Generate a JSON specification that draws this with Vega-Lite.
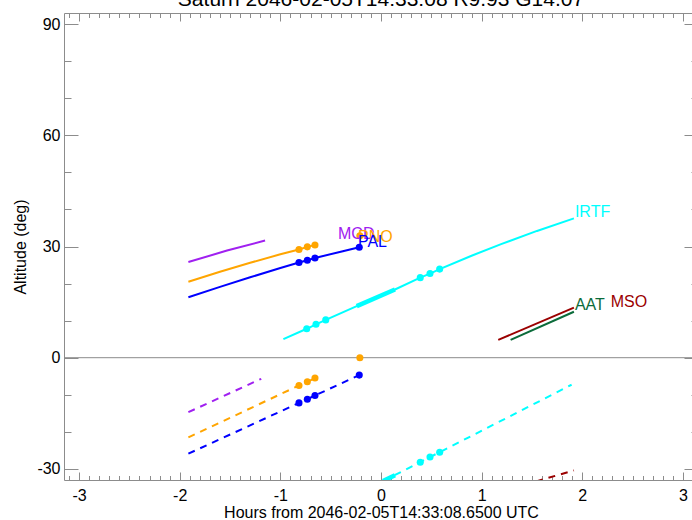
{
  "$schema": "https://vega.github.io/schema/vega-lite/v6.json",
  "autosize": {"type": "none"},
  "padding": {"left": 64, "top": 13, "right": -6, "bottom": 40},
  "width": 634,
  "height": 467,
  "background": "white",
  "title": {"text": "Saturn 2046-02-05T14:33:08 R9.93 G14.07", "fontSize": 21, "font": "Liberation Sans", "fontWeight": "normal", "color": "black", "anchor": "middle", "frame": "group", "offset": 3},
  "config": {
    "view": {"stroke": null},
    "axis": {"grid": false, "domainColor": "#8c8c8c", "tickColor": "#8c8c8c", "domainWidth": 1, "tickWidth": 1, "labelColor": "black", "titleColor": "black", "labelFont": "Liberation Sans", "titleFont": "Liberation Sans", "labelFontSize": 16, "titleFontSize": 16, "titleFontWeight": "normal", "labelFlush": false, "labelOverlap": false, "labelBound": false}
  },
  "datasets": {
    "zero": [{"alt": 0}],
    "lines": [
      {"obs": "MCD", "style": "solid", "h": -1.914, "alt": 25.8},
      {"obs": "MCD", "style": "solid", "h": -1.53, "alt": 28.9},
      {"obs": "MCD", "style": "solid", "h": -1.152, "alt": 31.6},
      {"obs": "PNO", "style": "solid", "h": -1.914, "alt": 20.5},
      {"obs": "PNO", "style": "solid", "h": -1.6, "alt": 23.2},
      {"obs": "PNO", "style": "solid", "h": -1.3, "alt": 25.6},
      {"obs": "PNO", "style": "solid", "h": -1.0, "alt": 27.9},
      {"obs": "PNO", "style": "solid", "h": -0.815, "alt": 29.2},
      {"obs": "PNO", "style": "solid", "h": -0.732, "alt": 29.9},
      {"obs": "PNO", "style": "solid", "h": -0.656, "alt": 30.4},
      {"obs": "PAL", "style": "solid", "h": -1.914, "alt": 16.3},
      {"obs": "PAL", "style": "solid", "h": -1.6, "alt": 19.1},
      {"obs": "PAL", "style": "solid", "h": -1.3, "alt": 21.7},
      {"obs": "PAL", "style": "solid", "h": -1.0, "alt": 24.2},
      {"obs": "PAL", "style": "solid", "h": -0.815, "alt": 25.7},
      {"obs": "PAL", "style": "solid", "h": -0.732, "alt": 26.3},
      {"obs": "PAL", "style": "solid", "h": -0.656, "alt": 26.9},
      {"obs": "PAL", "style": "solid", "h": -0.4, "alt": 28.6},
      {"obs": "PAL", "style": "solid", "h": -0.216, "alt": 29.8},
      {"obs": "IRTF", "style": "solid", "h": -0.97, "alt": 5.0},
      {"obs": "IRTF", "style": "solid", "h": -0.738, "alt": 7.8},
      {"obs": "IRTF", "style": "solid", "h": -0.646, "alt": 9.0},
      {"obs": "IRTF", "style": "solid", "h": -0.549, "alt": 10.2},
      {"obs": "IRTF", "style": "solid", "h": -0.241, "alt": 13.9},
      {"obs": "IRTF", "style": "solid", "h": 0.139, "alt": 18.4},
      {"obs": "IRTF", "style": "solid", "h": 0.39, "alt": 21.6},
      {"obs": "IRTF", "style": "solid", "h": 0.487, "alt": 22.7},
      {"obs": "IRTF", "style": "solid", "h": 0.583, "alt": 23.9},
      {"obs": "IRTF", "style": "solid", "h": 0.9, "alt": 27.5},
      {"obs": "IRTF", "style": "solid", "h": 1.2, "alt": 30.7},
      {"obs": "IRTF", "style": "solid", "h": 1.55, "alt": 34.2},
      {"obs": "IRTF", "style": "solid", "h": 1.917, "alt": 37.6},
      {"obs": "AAT", "style": "solid", "h": 1.288, "alt": 4.8},
      {"obs": "AAT", "style": "solid", "h": 1.917, "alt": 12.4},
      {"obs": "MSO", "style": "solid", "h": 1.165, "alt": 4.8},
      {"obs": "MSO", "style": "solid", "h": 1.917, "alt": 13.5},
      {"obs": "IRTF", "style": "thick", "h": -0.241, "alt": 13.9},
      {"obs": "IRTF", "style": "thick", "h": 0.139, "alt": 18.4},
      {"obs": "IRTF", "style": "thickd", "h": 0.02, "alt": -33.3},
      {"obs": "IRTF", "style": "thickd", "h": 0.139, "alt": -31.7},
      {"obs": "MCD", "style": "dashed", "h": -1.914, "alt": -14.7},
      {"obs": "MCD", "style": "dashed", "h": -1.19, "alt": -5.7},
      {"obs": "PNO", "style": "dashed", "h": -1.914, "alt": -21.5},
      {"obs": "PNO", "style": "dashed", "h": -0.815, "alt": -7.5},
      {"obs": "PNO", "style": "dashed", "h": -0.732, "alt": -6.5},
      {"obs": "PNO", "style": "dashed", "h": -0.656, "alt": -5.5},
      {"obs": "PAL", "style": "dashed", "h": -1.914, "alt": -25.9},
      {"obs": "PAL", "style": "dashed", "h": -0.815, "alt": -12.2},
      {"obs": "PAL", "style": "dashed", "h": -0.732, "alt": -11.2},
      {"obs": "PAL", "style": "dashed", "h": -0.656, "alt": -10.2},
      {"obs": "PAL", "style": "dashed", "h": -0.216, "alt": -4.7},
      {"obs": "IRTF", "style": "dashed", "h": 0.02, "alt": -33.3},
      {"obs": "IRTF", "style": "dashed", "h": 0.39, "alt": -28.2},
      {"obs": "IRTF", "style": "dashed", "h": 0.487, "alt": -26.8},
      {"obs": "IRTF", "style": "dashed", "h": 0.583, "alt": -25.5},
      {"obs": "IRTF", "style": "dashed", "h": 1.894, "alt": -7.3},
      {"obs": "MSO", "style": "dashed", "h": 1.54, "alt": -33.4},
      {"obs": "MSO", "style": "dashed", "h": 1.917, "alt": -30.4}
    ],
    "dots": [
      {"obs": "PNO", "h": -0.815, "alt": 29.2},
      {"obs": "PNO", "h": -0.732, "alt": 29.9},
      {"obs": "PNO", "h": -0.656, "alt": 30.4},
      {"obs": "PNO", "h": -0.815, "alt": -7.5},
      {"obs": "PNO", "h": -0.732, "alt": -6.5},
      {"obs": "PNO", "h": -0.656, "alt": -5.5},
      {"obs": "PNO", "h": -0.21, "alt": 32.9},
      {"obs": "PNO", "h": -0.21, "alt": 0.0},
      {"obs": "PAL", "h": -0.815, "alt": 25.7},
      {"obs": "PAL", "h": -0.732, "alt": 26.3},
      {"obs": "PAL", "h": -0.656, "alt": 26.9},
      {"obs": "PAL", "h": -0.216, "alt": 29.8},
      {"obs": "PAL", "h": -0.815, "alt": -12.2},
      {"obs": "PAL", "h": -0.732, "alt": -11.2},
      {"obs": "PAL", "h": -0.656, "alt": -10.2},
      {"obs": "PAL", "h": -0.216, "alt": -4.7},
      {"obs": "IRTF", "h": -0.738, "alt": 7.8},
      {"obs": "IRTF", "h": -0.646, "alt": 9.0},
      {"obs": "IRTF", "h": -0.549, "alt": 10.2},
      {"obs": "IRTF", "h": 0.39, "alt": 21.6},
      {"obs": "IRTF", "h": 0.487, "alt": 22.7},
      {"obs": "IRTF", "h": 0.583, "alt": 23.9},
      {"obs": "IRTF", "h": 0.39, "alt": -28.2},
      {"obs": "IRTF", "h": 0.487, "alt": -26.8},
      {"obs": "IRTF", "h": 0.583, "alt": -25.5}
    ],
    "labels": [
      {"obs": "IRTF", "h": 1.927, "alt": 39.3},
      {"obs": "MCD", "h": -0.427, "alt": 33.4},
      {"obs": "PNO", "h": -0.229, "alt": 32.6},
      {"obs": "PAL", "h": -0.229, "alt": 31.3},
      {"obs": "AAT", "h": 1.927, "alt": 14.2},
      {"obs": "MSO", "h": 2.283, "alt": 15.0}
    ]
  },
  "layer": [
    {
      "data": {"name": "zero"},
      "mark": {"type": "rule", "color": "#8c8c8c", "strokeWidth": 1},
      "encoding": {
        "y": {"field": "alt", "type": "quantitative", "scale": {"domain": [-33, 93], "nice": false, "zero": false}, "axis": null}
      }
    },
    {
      "data": {"name": "lines"},
      "transform": [{"filter": "datum.style === 'solid'"}],
      "mark": {"type": "line", "strokeWidth": 2, "clip": true},
      "encoding": {
        "x": {"field": "h", "type": "quantitative", "scale": {"domain": [-3.15, 3.15], "nice": false, "zero": false},
          "axis": {"orient": "bottom", "values": [-3, -2, -1, 0, 1, 2, 3], "tickSize": -8, "labelPadding": 15, "labelExpr": "'' + datum.value", "title": "Hours from 2046-02-05T14:33:08.6500 UTC", "titlePadding": 1}},
        "y": {"field": "alt", "type": "quantitative", "scale": {"domain": [-33, 93], "nice": false, "zero": false},
          "axis": {"orient": "left", "values": [-30, 0, 30, 60, 90], "tickSize": -14, "labelPadding": 18, "labelExpr": "'' + datum.value", "title": "Altitude (deg)", "titlePadding": 8}},
        "color": {"field": "obs", "type": "nominal", "scale": {"domain": ["MCD", "PNO", "PAL", "IRTF", "AAT", "MSO"], "range": ["#a020f0", "#ffa500", "#0000ff", "#00ffff", "#0b6b3a", "#9b0000"]}, "legend": null}
      }
    },
    {
      "data": {"name": "lines"},
      "transform": [{"filter": "datum.style === 'thick' || datum.style === 'thickd'"}],
      "mark": {"type": "line", "strokeWidth": 4.5, "clip": true},
      "encoding": {
        "x": {"field": "h", "type": "quantitative", "scale": {"domain": [-3.15, 3.15], "nice": false, "zero": false}, "axis": null},
        "y": {"field": "alt", "type": "quantitative", "scale": {"domain": [-33, 93], "nice": false, "zero": false}, "axis": null},
        "detail": {"field": "style"},
        "color": {"field": "obs", "type": "nominal", "legend": null}
      }
    },
    {
      "data": {"name": "lines"},
      "transform": [{"filter": "datum.style === 'dashed'"}],
      "mark": {"type": "line", "strokeWidth": 2, "strokeDash": [7, 6], "clip": true},
      "encoding": {
        "x": {"field": "h", "type": "quantitative", "scale": {"domain": [-3.15, 3.15], "nice": false, "zero": false},
          "axis": {"orient": "bottom", "values": [-3.1,-3,-2.9,-2.8,-2.7,-2.6,-2.5,-2.4,-2.3,-2.2,-2.1,-2,-1.9,-1.8,-1.7,-1.6,-1.5,-1.4,-1.3,-1.2,-1.1,-1,-0.9,-0.8,-0.7,-0.6,-0.5,-0.4,-0.3,-0.2,-0.1,0,0.1,0.2,0.3,0.4,0.5,0.6,0.7,0.8,0.9,1,1.1,1.2,1.3,1.4,1.5,1.6,1.7,1.8,1.9,2,2.1,2.2,2.3,2.4,2.5,2.6,2.7,2.8,2.9,3,3.1], "tickSize": -4.5, "labels": false, "domain": false, "title": null}},
        "y": {"field": "alt", "type": "quantitative", "scale": {"domain": [-33, 93], "nice": false, "zero": false},
          "axis": {"orient": "left", "values": [-20, -10, 10, 20, 40, 50, 70, 80], "tickSize": -7, "labels": false, "domain": false, "title": null}},
        "color": {"field": "obs", "type": "nominal", "legend": null}
      }
    },
    {
      "data": {"name": "dots"},
      "mark": {"type": "circle", "size": 50, "opacity": 1, "clip": true},
      "encoding": {
        "x": {"field": "h", "type": "quantitative", "scale": {"domain": [-3.15, 3.15], "nice": false, "zero": false},
          "axis": {"orient": "top", "values": [-3, -2, -1, 0, 1, 2, 3], "tickSize": -8, "labels": false, "domain": true, "title": null}},
        "y": {"field": "alt", "type": "quantitative", "scale": {"domain": [-33, 93], "nice": false, "zero": false},
          "axis": {"orient": "right", "values": [-30, 0, 30, 60, 90], "tickSize": -14, "labels": false, "domain": true, "title": null}},
        "color": {"field": "obs", "type": "nominal", "legend": null}
      }
    },
    {
      "data": {"name": "labels"},
      "mark": {"type": "text", "align": "left", "baseline": "middle", "fontSize": 16, "font": "Liberation Sans"},
      "encoding": {
        "x": {"field": "h", "type": "quantitative", "scale": {"domain": [-3.15, 3.15], "nice": false, "zero": false},
          "axis": {"orient": "top", "values": [-3.1,-3,-2.9,-2.8,-2.7,-2.6,-2.5,-2.4,-2.3,-2.2,-2.1,-2,-1.9,-1.8,-1.7,-1.6,-1.5,-1.4,-1.3,-1.2,-1.1,-1,-0.9,-0.8,-0.7,-0.6,-0.5,-0.4,-0.3,-0.2,-0.1,0,0.1,0.2,0.3,0.4,0.5,0.6,0.7,0.8,0.9,1,1.1,1.2,1.3,1.4,1.5,1.6,1.7,1.8,1.9,2,2.1,2.2,2.3,2.4,2.5,2.6,2.7,2.8,2.9,3,3.1], "tickSize": -4.5, "labels": false, "domain": false, "title": null}},
        "y": {"field": "alt", "type": "quantitative", "scale": {"domain": [-33, 93], "nice": false, "zero": false},
          "axis": {"orient": "right", "values": [-20, -10, 10, 20, 40, 50, 70, 80], "tickSize": -7, "labels": false, "domain": false, "title": null}},
        "text": {"field": "obs"},
        "color": {"field": "obs", "type": "nominal", "legend": null}
      }
    }
  ],
  "resolve": {"axis": {"x": "independent", "y": "independent"}}
}
